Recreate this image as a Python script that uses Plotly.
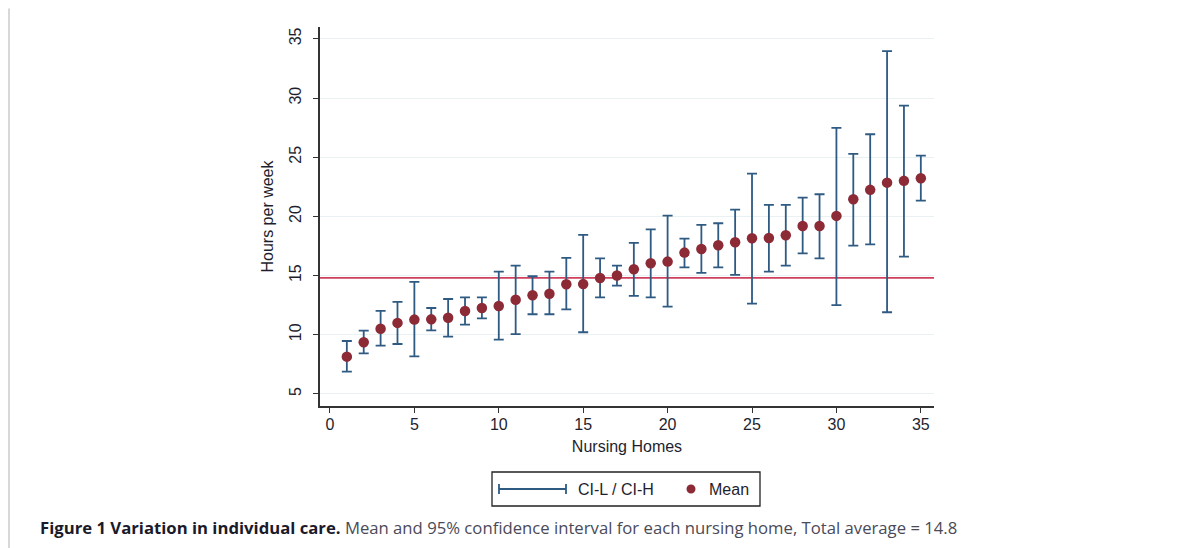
import plotly.graph_objects as go

# ---- data ----
homes = list(range(1, 36))
mean = [8.15, 9.36, 10.51, 11.0, 11.28, 11.3, 11.44, 12.01, 12.26, 12.43,
        12.96, 13.33, 13.47, 14.26, 14.28, 14.8, 15.0, 15.53, 16.04, 16.18,
        16.94, 17.25, 17.56, 17.81, 18.15, 18.18, 18.4, 19.19, 19.19, 20.04,
        21.45, 22.24, 22.85, 23.0, 23.22]
ci_low = [6.88, 8.43, 9.08, 9.22, 8.18, 10.37, 9.84, 10.85, 11.39, 9.58,
          10.06, 11.73, 11.73, 12.15, 10.21, 13.16, 14.15, 13.28, 13.16, 12.37,
          15.7, 15.22, 15.7, 15.05, 12.63, 15.33, 15.84, 16.88, 16.46, 12.51,
          17.53, 17.64, 11.9, 16.6, 21.33]
ci_high = [9.47, 10.35, 12.01, 12.77, 14.46, 12.26, 13.02, 13.16, 13.16, 15.33,
           15.84, 14.94, 15.33, 16.49, 18.43, 16.46, 15.84, 17.76, 18.91, 20.07,
           18.12, 19.28, 19.42, 20.57, 23.62, 20.97, 20.97, 21.59, 21.87, 27.48,
           25.28, 26.94, 33.96, 29.36, 25.14]
total_average = 14.8
x_ticks = [0, 5, 10, 15, 20, 25, 30, 35]
y_ticks = [5, 10, 15, 20, 25, 30, 35]

OFF = 8  # page body margin compensation
W, H = 1181 - OFF, 548 - OFF
L, R, T, B = 320 - OFF, 934 - OFF, 27 - OFF, 406 - OFF  # plot area in figure pixels

def px(x):  # page x pixel -> paper
    return (x - OFF - L) / (R - L)

def py(y):  # page y pixel -> paper
    return (B - (y - OFF)) / (B - T)

MAROON = "#8c2a36"
BLUE = "#2f5a82"
LINE_RED = "#cf3f5e"
TXT = "#1e1e2e"
FONT = "Liberation Sans, Arial, sans-serif"

err_plus = [h - m for h, m in zip(ci_high, mean)]
err_minus = [m - l for m, l in zip(mean, ci_low)]

fig = go.Figure()
fig.add_trace(go.Scatter(
    x=homes, y=mean, mode="markers", name="Mean",
    marker=dict(color=MAROON, size=10.5, line=dict(width=0)),
    error_y=dict(type="data", symmetric=False, array=err_plus,
                 arrayminus=err_minus, color=BLUE, thickness=1.8, width=5),
    showlegend=False,
))
fig.add_hline(y=total_average, line=dict(color=LINE_RED, width=1.8), layer="below")

shapes = []
# outer page border (top and left)
shapes.append(dict(type="line", xref="paper", yref="paper",
                   x0=px(8.5), x1=px(1181), y0=py(9), y1=py(9),
                   line=dict(color="#d8d8d8", width=2)))
shapes.append(dict(type="line", xref="paper", yref="paper",
                   x0=px(9), x1=px(9), y0=py(8.5), y1=py(548),
                   line=dict(color="#d8d8d8", width=2)))
# legend box
shapes.append(dict(type="rect", xref="paper", yref="paper",
                   x0=px(492), x1=px(760), y0=py(472), y1=py(506),
                   line=dict(color="#222", width=1.3), fillcolor="white"))
# legend CI symbol
shapes.append(dict(type="line", xref="paper", yref="paper",
                   x0=px(499), x1=px(566), y0=py(489), y1=py(489),
                   line=dict(color=BLUE, width=1.8)))
for xx in (499, 566):
    shapes.append(dict(type="line", xref="paper", yref="paper",
                       x0=px(xx), x1=px(xx), y0=py(484), y1=py(494),
                       line=dict(color=BLUE, width=1.8)))
# legend mean dot
shapes.append(dict(type="circle", xref="paper", yref="paper",
                   x0=px(686.5), x1=px(695.5), y0=py(484.5), y1=py(493.5),
                   line=dict(width=0), fillcolor=MAROON))

annotations = [
    dict(text="CI-L / CI-H", xref="paper", yref="paper", x=px(576), y=py(489),
         xanchor="left", yanchor="middle", showarrow=False,
         font=dict(family=FONT, size=16, color=TXT)),
    dict(text="Mean", xref="paper", yref="paper", x=px(707), y=py(489),
         xanchor="left", yanchor="middle", showarrow=False,
         font=dict(family=FONT, size=16, color=TXT)),
    dict(text="<b>Figure 1 Variation in individual care.</b> "
              "<span style='color:#4a4a58'>Mean and 95% confidence interval for each "
              "nursing home, Total average = 14.8</span>",
         xref="paper", yref="paper", x=px(38), y=py(527),
         xanchor="left", yanchor="middle", showarrow=False,
         font=dict(family="Open Sans, Noto Sans, sans-serif", size=16.7, color="#1a1a2a")),
]

fig.update_layout(
    width=W, height=H,
    margin=dict(l=L, r=W - R, t=T, b=H - B, pad=0),
    paper_bgcolor="white", plot_bgcolor="white",
    font=dict(family=FONT, size=15, color=TXT),
    shapes=shapes, annotations=annotations,
    xaxis=dict(range=[-0.59, 35.78], tickvals=x_ticks, ticks="outside",
               ticklen=5, tickwidth=1.3, tickcolor="#333",
               ticklabelstandoff=-2,
               showline=True, linecolor="#333", linewidth=1.6,
               showgrid=False, zeroline=False,
               tickfont=dict(size=16),
               title=dict(text="Nursing Homes", standoff=9,
                          font=dict(size=16))),
    yaxis=dict(range=[3.98, 36.0], tickvals=y_ticks, ticks="outside",
               ticklen=5, tickwidth=1.3, tickcolor="#333",
               tickangle=-90, ticklabelstandoff=6,
               showline=True, linecolor="#333", linewidth=1.6,
               showgrid=True, gridcolor="#e9f1f3", gridwidth=1.3,
               zeroline=False,
               tickfont=dict(size=16),
               title=dict(text="Hours per week", standoff=9,
                          font=dict(size=16))),
)

fig.write_html("out.html")
